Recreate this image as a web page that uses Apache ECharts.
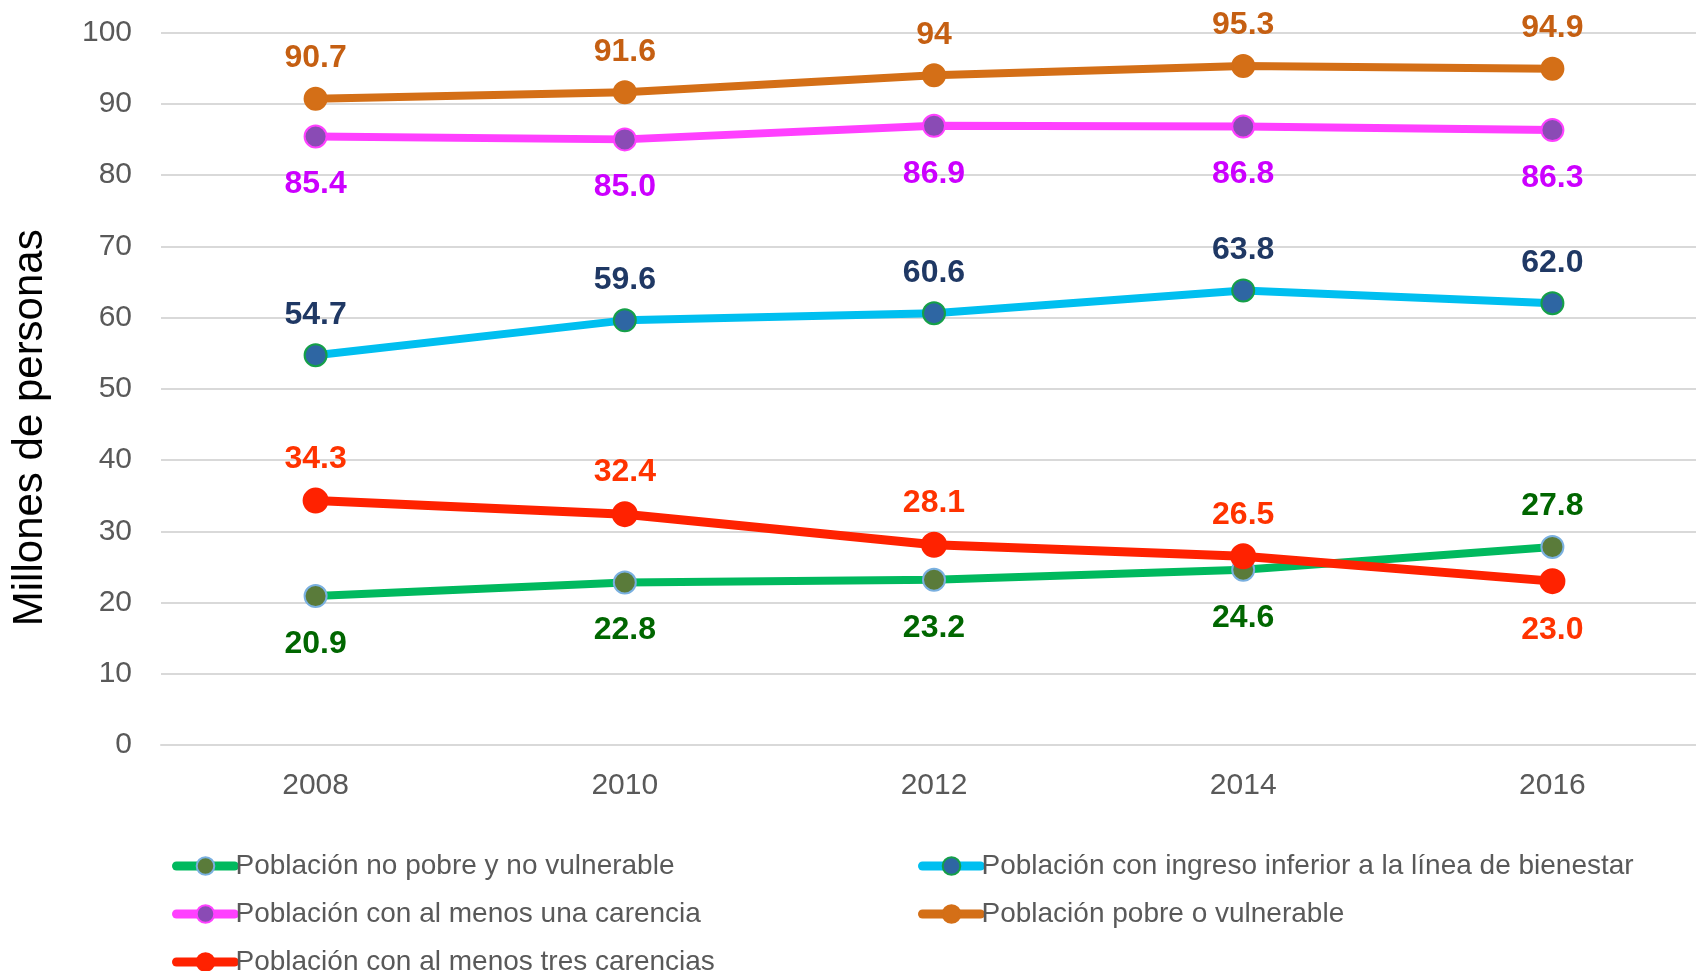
<!DOCTYPE html>
<html>
<head>
<meta charset="utf-8">
<script src="https://cdn.jsdelivr.net/npm/echarts@6/dist/echarts.min.js"></script>
<style>
html,body{margin:0;padding:0;background:#fff;}
#chart{width:1696px;height:971px;}
</style>
</head>
<body>
<div id="chart"></div>
<script>
const years = ['2008', '2010', '2012', '2014', '2016'];
const noPobre = [20.9, 22.8, 23.2, 24.6, 27.8];
const ingresoInferior = [54.7, 59.6, 60.6, 63.8, 62.0];
const unaCarencia = [85.4, 85.0, 86.9, 86.8, 86.3];
const pobreVulnerable = [90.7, 91.6, 94, 95.3, 94.9];
const tresCarencias = [34.3, 32.4, 28.1, 26.5, 23.0];
const yTicks = [0, 10, 20, 30, 40, 50, 60, 70, 80, 90, 100];

const names = [
  'Población no pobre y no vulnerable',
  'Población con ingreso inferior a la línea de bienestar',
  'Población con al menos una carencia',
  'Población pobre o vulnerable',
  'Población con al menos tres carencias'
];

const FONT = '"Liberation Sans", Arial, sans-serif';
const DIST_UP = 12.5;
const DIST_DOWN = 20;

function mkData(vals, positions) {
  return vals.map((v, i) => ({
    value: v,
    label: { position: positions[i], distance: positions[i] === 'top' ? DIST_UP : DIST_DOWN }
  }));
}

function mkSeries(name, vals, positions, lineColor, fill, border, labelColor, size, lw, fmt) {
  return {
    name: name,
    type: 'line',
    data: mkData(vals, positions),
    symbol: 'circle',
    symbolSize: size,
    lineStyle: { color: lineColor, width: lw },
    itemStyle: { color: fill, borderColor: border, borderWidth: 2 },
    label: {
      show: true,
      color: labelColor,
      fontFamily: FONT,
      fontWeight: 'bold',
      fontSize: 32,
      formatter: fmt || (p => Number(p.value).toFixed(1))
    },
    emphasis: { disabled: true },
    animation: false
  };
}

function mkLegend(name, left, centerY) {
  return {
    orient: 'horizontal',
    left: left,
    top: centerY - 14,
    itemWidth: 58,
    itemHeight: 22,
    data: [name],
    lineStyle: { width: 9, cap: 'round' },
    textStyle: { color: '#595959', fontSize: 28, fontFamily: FONT, padding: [0, 0, 0, -4] },
    selectedMode: false
  };
}

const chart = echarts.init(document.getElementById('chart'), null, { renderer: 'canvas' });

const option = {
  backgroundColor: '#ffffff',
  animation: false,
  grid: { left: 161, top: 32.5, width: 1546, height: 712.5, containLabel: false, outerBoundsMode: 'none' },
  xAxis: {
    type: 'category',
    data: years,
    boundaryGap: true,
    axisLine: { show: true, lineStyle: { color: '#d9d9d9', width: 2 } },
    axisTick: { show: false },
    axisLabel: { color: '#595959', fontSize: 30, fontFamily: FONT, margin: 26 },
    splitLine: { show: false }
  },
  yAxis: {
    type: 'value',
    min: yTicks[0],
    max: yTicks[yTicks.length - 1],
    interval: yTicks[1] - yTicks[0],
    name: 'Millones de personas',
    nameLocation: 'middle',
    nameGap: 110,
    nameRotate: 90,
    nameTextStyle: { color: '#000000', fontSize: 42, fontFamily: FONT, padding: [0, 78, 0, 0] },
    axisLine: { show: false },
    axisTick: { show: false },
    axisLabel: { color: '#595959', fontSize: 30, fontFamily: FONT, margin: 29 },
    splitLine: { show: true, lineStyle: { color: '#d9d9d9', width: 2 } }
  },
  legend: [
    mkLegend(names[0], 167, 861),
    mkLegend(names[2], 167, 909),
    mkLegend(names[4], 167, 957),
    mkLegend(names[1], 913, 861),
    mkLegend(names[3], 913, 909)
  ],
  series: [
    mkSeries(names[0], noPobre, ['bottom', 'bottom', 'bottom', 'bottom', 'top'],
      '#00B95E', '#5A7B3A', '#7AB0E0', '#006600', 22, 8),
    mkSeries(names[1], ingresoInferior, ['top', 'top', 'top', 'top', 'top'],
      '#00BFF0', '#2E66A3', '#15A048', '#1F3864', 22, 8),
    mkSeries(names[2], unaCarencia, ['bottom', 'bottom', 'bottom', 'bottom', 'bottom'],
      '#FF40FF', '#8A4BB5', '#FF40FF', '#CC00FF', 22, 8),
    mkSeries(names[3], pobreVulnerable, ['top', 'top', 'top', 'top', 'top'],
      '#D46F17', '#D46F17', '#D46F17', '#C55F12', 22, 8, p => String(p.value)),
    mkSeries(names[4], tresCarencias, ['top', 'top', 'top', 'top', 'bottom'],
      '#FF2200', '#FF2200', '#FF2200', '#FF3300', 24, 9)
  ]
};

chart.setOption(option);
</script>
</body>
</html>
